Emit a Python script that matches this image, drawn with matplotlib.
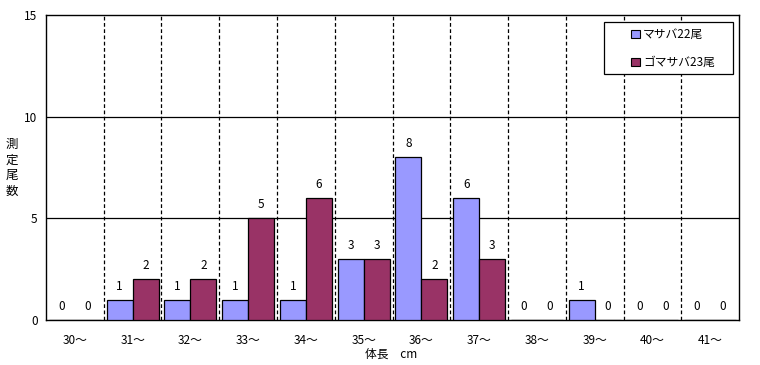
import numpy as np
import matplotlib
matplotlib.use('Agg')
from matplotlib import pyplot as plt
from matplotlib.patches import Rectangle

plt.rcParams['font.family'] = ['Noto Sans CJK JP', 'DejaVu Sans']

# Data
categories = ['30～', '31～', '32～', '33～', '34～', '35～',
              '36～', '37～', '38～', '39～', '40～', '41～']
masaba = [0, 1, 1, 1, 1, 3, 8, 6, 0, 1, 0, 0]
gomasaba = [0, 2, 2, 5, 6, 3, 2, 3, 0, 0, 0, 0]
series_names = ['マサバ22尾', 'ゴマサバ23尾']
yticks = [0, 5, 10, 15]

fig = plt.figure(figsize=(7.6, 3.65), dpi=100)
ax = fig.add_axes([0.0605, 0.1233, 0.9119, 0.8356])

x = np.arange(len(categories))
w = 0.45
b1 = ax.bar(x - w / 2, masaba, w, color='#9999ff', edgecolor='black', linewidth=0.9,
            label=series_names[0], zorder=3)
b2 = ax.bar(x + w / 2, gomasaba, w, color='#993366', edgecolor='black', linewidth=0.9,
            label=series_names[1], zorder=3)

for bars in (b1, b2):
    for r in bars:
        ax.text(r.get_x() + r.get_width() / 2, r.get_height() + 0.35, '%d' % r.get_height(),
                ha='center', va='bottom', fontsize=8.5, zorder=4)

# grid: solid horizontal, dashed vertical between categories
for y in yticks[1:-1]:
    ax.axhline(y, color='black', linewidth=0.9, zorder=1)
for xb in x[:-1] + 0.5:
    ax.axvline(xb, color='black', linewidth=0.9, linestyle=(0, (3, 2)), zorder=1)

ax.set_xlim(-0.5, len(categories) - 0.5)
ax.set_ylim(0, 15)
ax.set_yticks(yticks)
ax.set_xticks(x)
ax.set_xticklabels(categories)
ax.tick_params(length=0, labelsize=8.5, pad=6)
ax.tick_params(axis='x', pad=10)
for s in ax.spines.values():
    s.set_linewidth(1.0)

ax.set_xlabel('体長　cm', fontsize=8.5)
ax.xaxis.set_label_coords(0.498, -0.09)
fig.text(0.016, 0.54, '測\n定\n尾\n数', fontsize=9, ha='center', va='center', linespacing=1.25)

# legend: box drawn separately so it can be wider than its content
ax.add_patch(Rectangle((0.805, 0.807), 0.186, 0.170, transform=ax.transAxes,
                       facecolor='white', edgecolor='black', linewidth=0.9, zorder=5))
leg = ax.legend(loc='center', bbox_to_anchor=(0.905, 0.89), fontsize=8.5,
                frameon=False, handlelength=0.7, handleheight=0.7, handletextpad=0.3,
                labelspacing=1.3, borderaxespad=0)
leg.set_zorder(6)
for h in leg.legend_handles:
    h.set_linewidth(0.8)

fig.savefig('out.png', dpi=100)
